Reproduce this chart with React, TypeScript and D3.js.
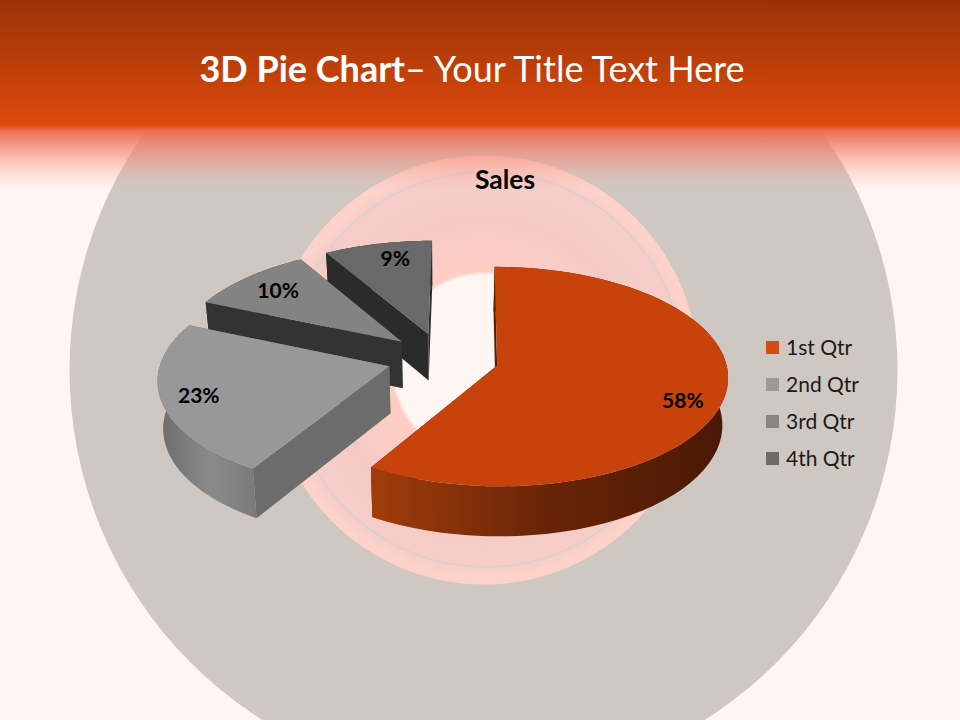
import * as d3 from "d3";

const quarters = ["1st Qtr", "2nd Qtr", "3rd Qtr", "4th Qtr"];
const sales = [8.2, 3.2, 1.4, 1.2];
const percentLabels = ["58%", "23%", "10%", "9%"];

const topColors = ["#c8420c", "#989898", "#838383", "#696969"];
const legendColors = ["#d34c14", "#9a9a9a", "#868686", "#6a6a6a"];
const cutWallColors = ["#571f06", "#6c6c6c", "#333333", "#2b2b2b"];
const rimStops = [
  ["#a03d0c", "#692407", "#4a1905"],
  ["#6e6e6e", "#8a8a8a", "#7a7a7a"],
  ["#333333", "#333333", "#333333"],
  ["#2b2b2b", "#2b2b2b", "#2b2b2b"],
];
const explodes = [0.25, 0.24, 0.24, 0.24];
const labelRadii = [0.84, 0.84, 0.79, 0.81];
const labelShifts = [6.4, 0, 0, 3]; // degrees off the slice's middle

const WIDTH = 960;
const HEIGHT = 720;

// pie plane -> screen, with a bit of perspective
const CX = 442;
const CY = 358.3;
const RX = 228;
const RY = 107.2;
const PERSPECTIVE = 0.1;
const SHEAR = -0.012;
const DEPTH = 47;
const BOTTOM_SCALE = 0.98;

type Pt = [number, number];

const topPoint = (u: number, v: number): Pt => {
  const w = 1 / (1 - PERSPECTIVE * v);
  return [CX + RX * (u + SHEAR * v) * w, CY + RY * v * w];
};

const bottomPoint = (u: number, v: number): Pt => {
  const w = 1 / (1 - PERSPECTIVE * v);
  const [x, y] = topPoint(u, v);
  return [
    CX + (x - CX) * BOTTOM_SCALE,
    CY + (y - CY) * BOTTOM_SCALE + DEPTH * w,
  ];
};

const slices = d3.pie<number>().sort(null)(sales);
const outline = d3.line<Pt>();

const sliceShapes = slices.map((s, i) => {
  const mid = (s.startAngle + s.endAngle) / 2;
  const ou = Math.sin(mid) * explodes[i];
  const ov = -Math.cos(mid) * explodes[i];
  const rim = (a: number): Pt => [ou + Math.sin(a), ov - Math.cos(a)];
  const angles = d3.range(0, 61).map(
    (k) => s.startAngle + ((s.endAngle - s.startAngle) * k) / 60
  );
  const arcTop = angles.map((a) => topPoint(...rim(a)));
  const arcBottom = angles.map((a) => bottomPoint(...rim(a)));
  const apexTop = topPoint(ou, ov);
  const apexBottom = bottomPoint(ou, ov);
  const r = labelRadii[i];
  const la = mid + (labelShifts[i] * Math.PI) / 180;
  const label = topPoint(ou + Math.sin(la) * r, ov - Math.cos(la) * r);
  return {
    top: outline([apexTop, ...arcTop])! + "Z",
    rimWall: outline([...arcTop, ...[...arcBottom].reverse()])! + "Z",
    startWall:
      outline([apexTop, arcTop[0], arcBottom[0], apexBottom])! + "Z",
    endWall:
      outline([apexTop, arcTop[60], arcBottom[60], apexBottom])! + "Z",
    xs: d3.extent(arcBottom, (p) => p[0]) as [number, number],
    label,
  };
});

const legendY = d3
  .scalePoint<string>()
  .domain(quarters)
  .range([347.5, 458.5]);

const FONT = "Lato, 'Open Sans', sans-serif";

const App = () => {
  return (
    <svg
      width={WIDTH}
      height={HEIGHT}
      style={{ position: "absolute", left: 0, top: 0, display: "block" }}
    >
      <defs>
        <linearGradient id="band" x1="0" y1="0" x2="0" y2="1">
          <stop offset="0" stopColor="#9b3206" />
          <stop offset="0.66" stopColor="#dd4a0d" />
          <stop offset="0.685" stopColor="#ee6a52" />
          <stop offset="1" stopColor="#f8b0a0" stopOpacity={0} />
        </linearGradient>
        <radialGradient
          id="ring"
          gradientUnits="userSpaceOnUse"
          cx={484}
          cy={370}
          r={214.5}
        >
          <stop offset="0" stopColor="#ffcfc6" />
          <stop offset="0.5" stopColor="#fdcdc4" />
          <stop offset="0.7" stopColor="#f5cac4" />
          <stop offset="0.92" stopColor="#f5cdc8" />
          <stop offset="0.97" stopColor="#fdd2ca" />
          <stop offset="1" stopColor="#fdd2ca" />
        </radialGradient>
        <filter id="soft" x="-10%" y="-10%" width="120%" height="120%">
          <feGaussianBlur stdDeviation="1.2" />
        </filter>
        {sliceShapes.map((d, i) => (
          <linearGradient
            key={i}
            id={`rim${i}`}
            gradientUnits="userSpaceOnUse"
            x1={d.xs[0]}
            x2={d.xs[1]}
            y1={0}
            y2={0}
          >
            {rimStops[i].map((c, k) => (
              <stop key={k} offset={k / 2} stopColor={c} />
            ))}
          </linearGradient>
        ))}
      </defs>

      <rect width={WIDTH} height={HEIGHT} fill="#fff6f3" />
      <circle cx={483.5} cy={370} r={414} fill="#cfc7c2" />
      <circle cx={484} cy={370} r={214.5} fill="url(#ring)" />
      <circle
        cx={486}
        cy={369.5}
        r={197.5}
        fill="none"
        stroke="#d9d0cc"
        strokeWidth={1.6}
      />
      <circle cx={485} cy={366} r={93} fill="#fff6f3" filter="url(#soft)" />
      <rect width={WIDTH} height={190} fill="url(#band)" />

      <text
        x={472}
        y={82}
        textAnchor="middle"
        fontFamily={FONT}
        fontSize={36}
        fill="#ffffff"
      >
        <tspan fontWeight={700}>3D Pie Chart</tspan>
        <tspan>– Your Title Text Here</tspan>
      </text>
      <text
        x={505}
        y={189}
        textAnchor="middle"
        fontFamily={FONT}
        fontSize={26.5}
        fontWeight={700}
        fill="#000000"
      >
        Sales
      </text>

      {/* back to front */}
      {d3
        .range(sliceShapes.length)
        .reverse()
        .map((i) => {
          const d = sliceShapes[i];
          return (
            <g key={i}>
              <path d={d.endWall} fill={cutWallColors[i]} />
              <path d={d.rimWall} fill={`url(#rim${i})`} />
              <path d={d.startWall} fill={cutWallColors[i]} />
              <path d={d.top} fill={topColors[i]} />
            </g>
          );
        })}

      {sliceShapes.map((d, i) => (
        <text
          key={i}
          x={d.label[0]}
          y={d.label[1]}
          dy="0.35em"
          textAnchor="middle"
          fontFamily={FONT}
          fontSize={21}
          fontWeight={700}
          fill="#000000"
        >
          {percentLabels[i]}
        </text>
      ))}

      {quarters.map((q, i) => (
        <g key={q} transform={`translate(766,${legendY(q)})`}>
          <rect y={-6.5} width={13} height={13} fill={legendColors[i]} />
          <text
            x={20}
            dy="0.35em"
            fontFamily={FONT}
            fontSize={21}
            fill="#1a1a1a"
          >
            {q}
          </text>
        </g>
      ))}
    </svg>
  );
};

export default App;
